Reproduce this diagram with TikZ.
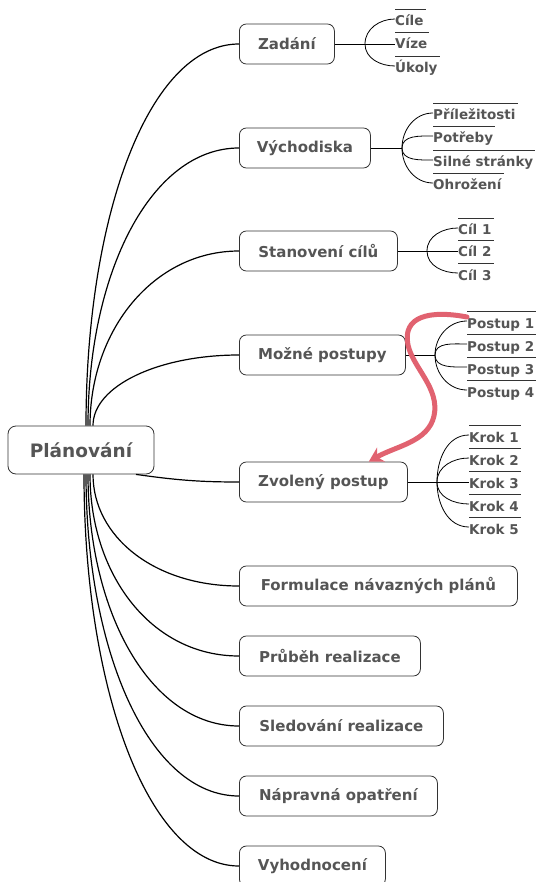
\documentclass[tikz,border=0pt]{standalone}
\usepackage{fontspec}
\setmainfont{DejaVu Sans}
\usetikzlibrary{arrows.meta}
\definecolor{txt}{RGB}{85,85,85}
\definecolor{frame}{RGB}{51,51,51}
\definecolor{hl}{RGB}{225,98,112}
\begin{document}
\begin{tikzpicture}[x=1pt,y=-1pt,
 topic/.style={draw=frame, line width=0.8pt, rounded corners=7pt, minimum height=40pt, inner xsep=0pt, anchor=west, text=txt, font=\bfseries\fontsize{15}{18}\selectfont},
 central/.style={draw=frame, line width=0.8pt, rounded corners=8pt, minimum height=48pt, minimum width=146pt, text=txt, font=\bfseries\fontsize{18.5}{22}\selectfont},
 sub/.style={anchor=west, inner sep=0pt, text height=10pt, text depth=0pt, text=txt, font=\bfseries\fontsize{13.5}{16}\selectfont},
 branch/.style={line width=1.2pt, black},
 twig/.style={line width=0.8pt, black},
 overl/.style={line width=0.7pt, frame},
 highlight/.style={line width=5pt, hl, line cap=round, -{Stealth[length=14pt,width=16pt]}}
]
\useasboundingbox (0,0) rectangle (536,882);

% topics
\node[central] (root) at (81,450) {Plánování};
\node[topic, minimum width=95pt]  (zad)  at (239,44)  {Zadání};
\node[topic, minimum width=131pt] (vych) at (239,148) {Východiska};
\node[topic, minimum width=158pt] (stan) at (239,251) {Stanovení cílů};
\node[topic, minimum width=166pt] (moz)  at (239,355) {Možné postupy};
\node[topic, minimum width=168pt] (zvo)  at (239,482) {Zvolený postup};
\node[topic, minimum width=278pt] (form) at (239,586) {Formulace návazných plánů};
\node[topic, minimum width=181pt] (prub) at (239,656) {Průběh realizace};
\node[topic, minimum width=204pt] (sled) at (239,726) {Sledování realizace};
\node[topic, minimum width=198pt] (napr) at (239,796) {Nápravná opatření};
\node[topic, minimum width=146pt] (vyh)  at (239,866) {Vyhodnocení};

% root branches
\draw[branch] ([xshift=5pt]root.north) to[out=90,in=180,out distance=210pt,in distance=90pt] (zad.west);
\draw[branch] ([xshift=7pt]root.north) to[out=90,in=180,out distance=153pt,in distance=88pt] (vych.west);
\draw[branch] ([xshift=9pt]root.north) to[out=90,in=180,out distance=96pt,in distance=85pt] (stan.west);
\draw[branch] ([xshift=12pt]root.north) to[out=90,in=180,out distance=40pt,in distance=80pt] (moz.west);
\draw[branch] ([xshift=55pt]root.south) to[out=-8,in=180] (zvo.west);
\draw[branch] ([xshift=12pt]root.south) to[out=-90,in=180,out distance=62pt,in distance=85pt] (form.west);
\draw[branch] ([xshift=9pt]root.south) to[out=-90,in=180,out distance=100pt,in distance=88pt] (prub.west);
\draw[branch] ([xshift=7pt]root.south) to[out=-90,in=180,out distance=139pt,in distance=88pt] (sled.west);
\draw[branch] ([xshift=5pt]root.south) to[out=-90,in=180,out distance=177pt,in distance=90pt] (napr.west);
\draw[branch] ([xshift=3pt]root.south) to[out=-90,in=180,out distance=216pt,in distance=90pt] (vyh.west);

% subtopics
\node[sub] (cile)  at (395,21) {Cíle};
\node[sub] (vize)  at (395,44) {Víze};
\node[sub] (ukoly) at (395,68) {Úkoly};

\node[sub] (pril) at (433,115) {Příležitosti};
\node[sub] (potr) at (433,138) {Potřeby};
\node[sub] (siln) at (433,162) {Silné stránky};
\node[sub] (ohro) at (433,185) {Ohrožení};

\node[sub] (cil1) at (458,230) {Cíl 1};
\node[sub] (cil2) at (458,252) {Cíl 2};
\node[sub] (cil3) at (458,275) {Cíl 3};

\node[sub] (p1) at (467,323) {Postup 1};
\node[sub] (p2) at (467,346) {Postup 2};
\node[sub] (p3) at (467,369) {Postup 3};
\node[sub] (p4) at (467,392) {Postup 4};

\node[sub] (k1) at (469,437) {Krok 1};
\node[sub] (k2) at (469,460) {Krok 2};
\node[sub] (k3) at (469,483) {Krok 3};
\node[sub] (k4) at (469,506) {Krok 4};
\node[sub] (k5) at (469,529) {Krok 5};

\foreach \n in {cile,vize,ukoly,pril,potr,siln,ohro,cil1,cil2,cil3,p1,p2,p3,p4,k1,k2,k3,k4,k5}
  \draw[overl] ([yshift=6pt]\n.north west) -- ([yshift=6pt,xshift=2pt]\n.north east);

% junctions
\coordinate (jz) at (365,44);
\coordinate (jv) at (402,148);
\coordinate (js) at (427,251);
\coordinate (jm) at (435,355);
\coordinate (jk) at (437,482);

\draw[twig] (zad.east) -- (jz);
\draw[twig] (jz) to[out=90,in=180] ([yshift=2pt]cile.west);
\draw[twig] (jz) -- ([yshift=0pt]vize.west);
\draw[twig] (jz) to[out=-90,in=180] ([yshift=2pt]ukoly.west);

\draw[twig] (vych.east) -- (jv);
\draw[twig] (jv) to[out=90,in=180] ([yshift=2pt]pril.west);
\draw[twig] (jv) to[out=90,in=180] ([yshift=2pt]potr.west);
\draw[twig] (jv) to[out=-90,in=180] ([yshift=2pt]siln.west);
\draw[twig] (jv) to[out=-90,in=180] ([yshift=2pt]ohro.west);

\draw[twig] (stan.east) -- (js);
\draw[twig] (js) to[out=90,in=180] ([yshift=2pt]cil1.west);
\draw[twig] (js) -- (cil2.west |- js);
\draw[twig] (js) to[out=-90,in=180] ([yshift=2pt]cil3.west);

\draw[twig] (moz.east) -- (jm);
\draw[twig] (jm) to[out=90,in=180] ([yshift=2pt]p1.west);
\draw[twig] (jm) to[out=90,in=180] ([yshift=2pt]p2.west);
\draw[twig] (jm) to[out=-90,in=180] ([yshift=2pt]p3.west);
\draw[twig] (jm) to[out=-90,in=180] ([yshift=2pt]p4.west);

\draw[twig] (zvo.east) -- (jk);
\draw[twig] (jk) to[out=90,in=180] ([yshift=2pt]k1.west);
\draw[twig] (jk) to[out=90,in=180] ([yshift=2pt]k2.west);
\draw[twig] (jk) -- (k3.west |- jk);
\draw[twig] (jk) to[out=-90,in=180] ([yshift=2pt]k4.west);
\draw[twig] (jk) to[out=-90,in=180] ([yshift=2pt]k5.west);

% highlight arrow
\coordinate (tip) at ([xshift=-39pt]zvo.north east);
\draw[highlight] ([yshift=6pt]p1.west) .. controls (430,310) and (402,316) .. (408,345)
  .. controls (413,368) and (440,388) .. (434,416)
  .. controls (428,442) and (396,446) .. (tip);
\end{tikzpicture}
\end{document}
